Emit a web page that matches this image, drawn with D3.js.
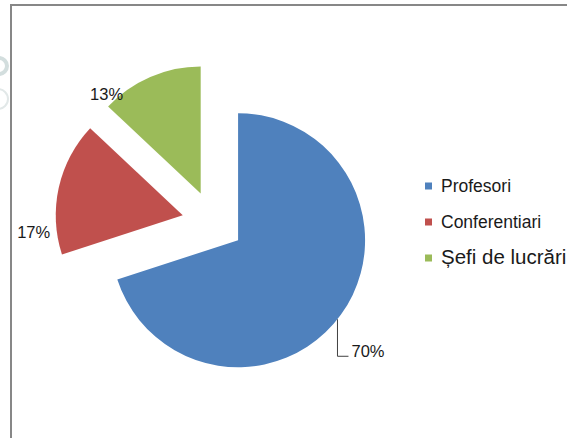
<!DOCTYPE html>
<html><head><meta charset="utf-8">
<script src="https://cdn.jsdelivr.net/npm/d3@7"></script>
<style>body{margin:0;background:#fff}svg{display:block}</style>
</head><body>
<script>
const categories = ["Profesori", "Conferentiari", "Șefi de lucrări"];
const values = [70, 17, 13];
const valueLabels = ["70%", "17%", "13%"];
const colors = ["#4F81BD", "#C0504D", "#9BBB59"];

const W = 567, H = 438;
const svg = d3.select("body").append("svg").attr("width", W).attr("height", H);

// faint background artifacts at the left edge
svg.append("circle").attr("cx", -1).attr("cy", 66).attr("r", 8)
  .attr("fill", "none").attr("stroke", "#d3dede").attr("stroke-width", 4);
svg.append("circle").attr("cx", -2).attr("cy", 99).attr("r", 10)
  .attr("fill", "none").attr("stroke", "#e2e8e8").attr("stroke-width", 2);

// frame
svg.append("path").attr("d", `M11,${H} L11,5 L${W},5`)
  .attr("fill", "none").attr("stroke", "#878787").attr("stroke-width", 2);

const cx = 213, cy = 222, r = 127, explode = 31;
const pieData = d3.pie().sort(null).value(d => d)(values);
const arc = d3.arc().innerRadius(0).outerRadius(r);
const g = svg.append("g").attr("transform", `translate(${cx},${cy})`);

const labelFont = "'Liberation Sans', Arial, sans-serif";
// label placement: angle offset (deg) from mid angle, radius offset
const labelPlace = [null, { da: -19, dr: 23 }, { da: -20, dr: 10 }];

pieData.forEach((p, i) => {
  const mid = (p.startAngle + p.endAngle) / 2;
  const ox = explode * Math.sin(mid), oy = -explode * Math.cos(mid);
  const sg = g.append("g").attr("transform", `translate(${ox},${oy})`);
  sg.append("path").attr("d", arc(p)).attr("fill", colors[i]);
  if (i === 0) {
    const a = mid + 2.5 * Math.PI / 180;
    const ex = r * Math.sin(a), ey = -r * Math.cos(a);
    const ly = ey + 37, lx = ex + 11;
    sg.append("path").attr("d", `M${ex},${ey} L${ex},${ly} L${lx},${ly}`)
      .attr("fill", "none").attr("stroke", "#404040").attr("stroke-width", 1);
    sg.append("text").attr("x", lx + 3).attr("y", ly + 1)
      .attr("font-family", labelFont).attr("font-size", 16.5).attr("fill", "#1a1a1a")
      .text(valueLabels[i]);
  } else {
    const lp = labelPlace[i];
    const a = mid + lp.da * Math.PI / 180, rr = r + lp.dr;
    sg.append("text").attr("x", rr * Math.sin(a)).attr("y", -rr * Math.cos(a))
      .attr("dy", "0.35em").attr("text-anchor", "middle")
      .attr("font-family", labelFont).attr("font-size", 16.5).attr("fill", "#1a1a1a")
      .text(valueLabels[i]);
  }
});

// legend
const ly = d3.scalePoint().domain(categories).range([192, 264]);
const leg = svg.append("g");
categories.forEach((c, i) => {
  const y = ly(c);
  leg.append("rect").attr("x", 425).attr("y", y - 9.5).attr("width", 7).attr("height", 7)
    .attr("fill", colors[i]);
  leg.append("text").attr("x", 441).attr("y", y)
    .attr("font-family", labelFont).attr("font-size", i === 2 ? 20.5 : 17.5)
    .attr("fill", "#1a1a1a").text(c);
});
</script>
</body></html>
